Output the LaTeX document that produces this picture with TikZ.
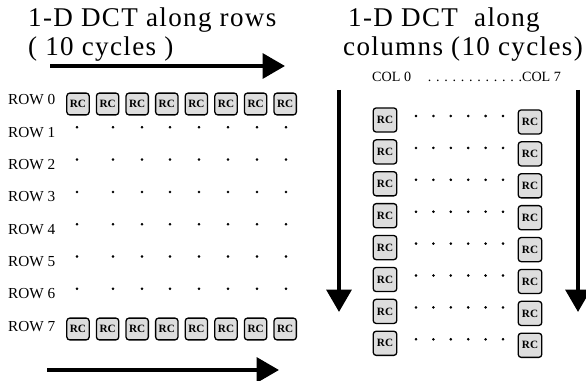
\documentclass[tikz,border=0pt]{standalone}
\usepackage{fontspec}
\setmainfont{Liberation Serif}
\newfontfamily\titlefont[LetterSpace=5]{Liberation Serif}
\usetikzlibrary{arrows.meta}

\definecolor{rcgray}{RGB}{221,221,221}

\tikzset{
    rc/.style={draw, line width=1.1pt, rounded corners=2.5pt, fill=rcgray,
        minimum width=19pt, minimum height=18.5pt, inner sep=0pt,
        font=\fontsize{9.5}{10}\selectfont\bfseries},
    colrc/.style={rc, minimum width=20pt, minimum height=20.5pt},
    bigarrow/.style={line width=3.4pt, -{Triangle[length=19pt,width=21pt]}},
    rowlabel/.style={anchor=west, inner sep=0pt, font=\fontsize{13}{14}\selectfont},
    title/.style={anchor=base west, inner sep=0pt, font=\titlefont\fontsize{23}{26}\selectfont},
}

\begin{document}
\begin{tikzpicture}[x=0.85pt, y=-0.85pt]
        \useasboundingbox (0,0) rectangle (586,381);

        % titles
        \node[title] (rowtitle) at (28,27) {1-D DCT along rows};
        \node[title] (rowcycles) at (28,56) {( 10 cycles )};
        \node[title] (coltitle) at (348,27) {1-D DCT\ \ along};
        \node[title] (colcycles) at (343,56) {columns (10 cycles)};

        % rows: labels, first and last row of RC cells, dots in between
        \foreach \r in {0,...,7}
            \node[rowlabel] (row\r) at (8,{100+32.3*\r}) {ROW \r};
        \foreach \i in {0,...,7} {
            \node[rc] (top\i) at ({78+29.6*\i},104) {RC};
            \node[rc] (bot\i) at ({78+29.6*\i},329) {RC};
        }
        \foreach \r in {1,...,6}
            \foreach \x in {77,113,142,170,199,228,257,286}
                \filldraw (\x,{95+32.3*\r}) circle (0.9pt);

        \coordinate (rowstart) at (50,66);
        \coordinate (rowend) at (285,66);
        \coordinate (lowstart) at (47,370);
        \coordinate (lowend) at (279,370);
        \draw[bigarrow] (rowstart) -- (rowend);
        \draw[bigarrow] (lowstart) -- (lowend);

        % columns: COL 0 and COL 7 cells, dots in between
        \node[anchor=west, inner sep=0pt, font=\fontsize{12}{13}\selectfont] (collabel)
            at (372,77) {COL 0\hspace{1.2em}. . . . . . . . . . . .COL 7};
        \foreach \i in {0,...,7} {
            \node[colrc] (left\i) at (385,{120+31.9*\i}) {RC};
            \node[colrc] (right\i) at (530,{122+31.9*\i}) {RC};
            \foreach \k in {0,...,5}
                \filldraw ({416+17.4*\k},{116+31.9*\i}) circle (0.9pt);
        }

        \coordinate (leftstart) at (339,90);
        \coordinate (leftend) at (339,312);
        \coordinate (rightstart) at (578,90);
        \coordinate (rightend) at (578,312);
        \draw[bigarrow] (leftstart) -- (leftend);
        \draw[bigarrow] (rightstart) -- (rightend);
\end{tikzpicture}
\end{document}
